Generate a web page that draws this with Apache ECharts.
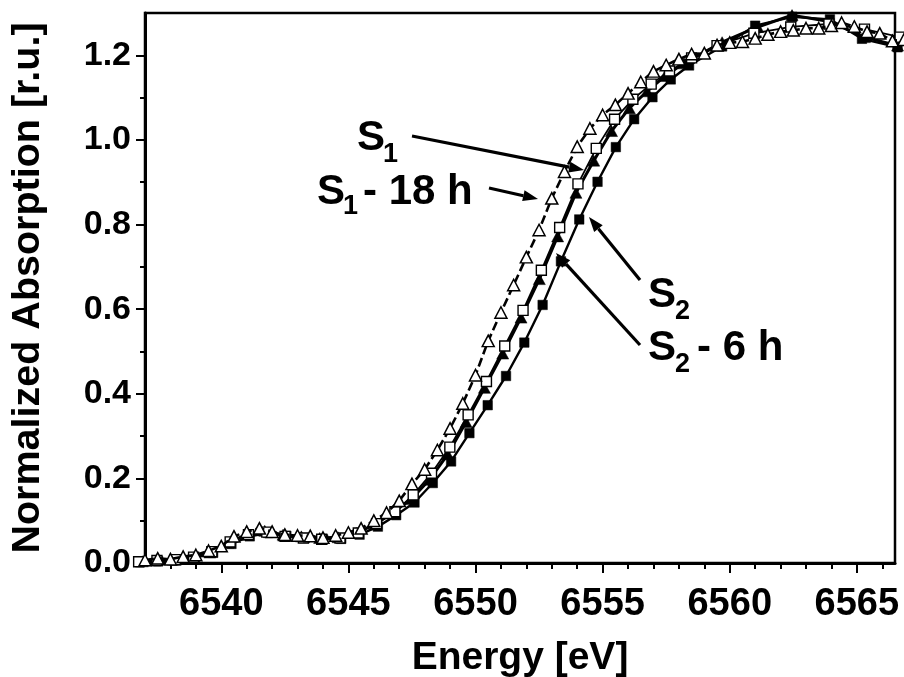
<!DOCTYPE html>
<html><head><meta charset="utf-8">
<script src="https://cdn.jsdelivr.net/npm/echarts@6/dist/echarts.min.js"></script>
<style>html,body{margin:0;padding:0;background:#fff}#c{width:904px;height:677px}</style>
</head><body><div id="c"></div>
<script>
// ---- data ----
// S1 (filled triangles, solid line)
const s1Energy = [6536.9,6537.39,6538.11,6538.83,6539.55,6540.27,6540.99,6541.71,6542.43,6543.15,6543.87,6544.59,6545.31,6546.03,6546.75,6547.47,6548.19,6548.91,6549.63,6550.35,6551.07,6551.79,6552.51,6553.23,6553.95,6554.65,6555.35,6556.05,6556.75,6557.45,6558.2,6559.7,6561.1,6562.45,6563.9,6565.3,6566.6];
const s1Abs = [0.004,0.006,0.008,0.013,0.025,0.048,0.067,0.076,0.067,0.063,0.059,0.061,0.071,0.091,0.119,0.151,0.197,0.257,0.333,0.414,0.495,0.580,0.671,0.772,0.875,0.951,1.021,1.075,1.115,1.151,1.181,1.231,1.267,1.295,1.280,1.243,1.223];
// S1 - 18 h (open triangles, dashed line)
const s1h18Energy = [6537.0,6537.5,6538.0,6538.5,6539.0,6539.5,6540.0,6540.5,6541.0,6541.5,6542.0,6542.5,6543.0,6543.5,6544.0,6544.5,6545.0,6545.5,6546.0,6546.5,6547.0,6547.5,6548.0,6548.5,6549.0,6549.5,6550.0,6550.5,6551.0,6551.5,6552.0,6552.5,6553.0,6553.5,6554.0,6554.5,6555.0,6555.5,6556.0,6556.5,6557.0,6557.5,6558.0,6558.5,6559.0,6559.5,6560.0,6560.5,6561.0,6561.5,6562.0,6562.5,6563.0,6563.5,6564.0,6564.4,6564.9,6565.4,6565.9,6566.4,6566.85];
const s1h18Abs = [0.007,0.011,0.009,0.015,0.019,0.029,0.040,0.063,0.074,0.082,0.074,0.067,0.065,0.064,0.060,0.065,0.072,0.082,0.100,0.119,0.147,0.187,0.221,0.267,0.318,0.377,0.444,0.525,0.592,0.657,0.723,0.787,0.862,0.925,0.984,1.027,1.059,1.083,1.110,1.137,1.162,1.177,1.191,1.203,1.205,1.224,1.230,1.232,1.240,1.249,1.256,1.259,1.264,1.264,1.270,1.277,1.268,1.256,1.252,1.234,1.237];
// S2 (filled squares, solid line)
const s2Energy = [6536.80,6537.52,6538.24,6538.96,6539.68,6540.40,6541.12,6541.84,6542.56,6543.28,6544.00,6544.72,6545.44,6546.16,6546.88,6547.60,6548.32,6549.04,6549.76,6550.48,6551.20,6551.92,6552.64,6553.36,6554.08,6554.80,6555.52,6556.24,6556.96,6557.68,6558.40,6559.70,6561.00,6562.46,6563.94,6565.20,6566.60];
const s2Abs = [0.002,0.004,0.006,0.012,0.024,0.045,0.063,0.071,0.064,0.059,0.056,0.057,0.067,0.086,0.113,0.143,0.189,0.240,0.307,0.373,0.442,0.521,0.610,0.713,0.812,0.901,0.983,1.049,1.101,1.143,1.176,1.221,1.270,1.291,1.285,1.239,1.219];
// S2 - 6 h (open squares, solid line)
const s2h6Energy = [6536.75,6537.47,6538.19,6538.91,6539.63,6540.35,6541.07,6541.79,6542.51,6543.23,6543.95,6544.67,6545.39,6546.11,6546.83,6547.55,6548.27,6548.99,6549.71,6550.43,6551.15,6551.87,6552.59,6553.31,6554.03,6554.75,6555.47,6556.19,6556.91,6557.63,6558.50,6559.50,6560.95,6562.40,6563.90,6565.30,6566.70];
const s2h6Abs = [0.003,0.006,0.008,0.014,0.027,0.050,0.067,0.073,0.063,0.059,0.056,0.059,0.071,0.093,0.121,0.161,0.212,0.274,0.350,0.429,0.513,0.597,0.692,0.793,0.896,0.980,1.049,1.096,1.132,1.163,1.194,1.223,1.252,1.267,1.274,1.262,1.243];
// axis ticks
const xMajorTicks = [6540,6545,6550,6555,6560,6565];
const xMinorTicks = [6538,6539,6541,6542,6543,6544,6546,6547,6548,6549,6551,6552,6553,6554,6556,6557,6558,6559,6561,6562,6563,6564,6566];
const yMajorTicks = [0,0.2,0.4,0.6,0.8,1.0,1.2];
const yMinorTicks = [0.1,0.3,0.5,0.7,0.9,1.1];
const xRange = [6537,6566.5];
const yRange = [0,1.3];

function zip(a,b){return a.map((v,i)=>[v,b[i]]);}

const SANS = '"Liberation Sans",Arial,Helvetica,sans-serif';

const chart = echarts.init(document.getElementById('c'), null, {renderer:'canvas'});

function arrow(x1,y1,x2,y2){
  const dx=x2-x1, dy=y2-y1, L=Math.hypot(dx,dy), ux=dx/L, uy=dy/L;
  const hl=15, hw=5.5;
  const bx=x2-ux*hl, by=y2-uy*hl;
  return {type:'group', children:[
    {type:'line', shape:{x1:x1,y1:y1,x2:bx,y2:by}, style:{stroke:'#000', lineWidth:3.2}},
    {type:'polygon', shape:{points:[[x2,y2],[bx-uy*hw,by+ux*hw],[bx+uy*hw,by-ux*hw]]}, style:{fill:'#000'}}
  ]};
}
function txt(s,x,y,size){
  return {type:'text', x:x, y:y, style:{text:s, fill:'#000', fontFamily:SANS, fontWeight:'bold', fontSize:size, verticalAlign:'middle', align:'left'}};
}

const axisCommon = {
  min:xRange[0], max:xRange[1], type:'value', splitLine:{show:false}
};

chart.setOption({
  animation:false,
  backgroundColor:'#fff',
  grid:{left:145, right:9, top:13, bottom:114, containLabel:false, outerBoundsMode:'none', show:true, borderColor:'#000', borderWidth:2.5, backgroundColor:'transparent'},
  xAxis:[
    Object.assign({}, axisCommon, {
      position:'bottom',
      name:'Energy [eV]', nameLocation:'middle', nameGap:76,
      nameTextStyle:{fontFamily:SANS, fontWeight:'bold', fontSize:39, color:'#000'},
      axisLine:{show:true, lineStyle:{color:'#000', width:3}},
      axisTick:{show:true, inside:false, length:10, lineStyle:{color:'#000', width:2}, customValues:xMajorTicks},
      axisLabel:{show:true, margin:23, color:'#000', fontFamily:SANS, fontWeight:'bold', fontSize:38, customValues:xMajorTicks, formatter:v=>String(v)}
    }),
    Object.assign({}, axisCommon, {
      position:'bottom',
      axisLine:{show:false},
      axisTick:{show:true, inside:false, length:6, lineStyle:{color:'#000', width:2}, customValues:xMinorTicks},
      axisLabel:{show:false}
    })
  ],
  yAxis:[
    {type:'value', min:yRange[0], max:yRange[1], position:'left', splitLine:{show:false},
      name:'Normalized Absorption [r.u.]', nameLocation:'middle', nameGap:97,
      nameTextStyle:{fontFamily:SANS, fontWeight:'bold', fontSize:39.5, color:'#000'},
      axisLine:{show:true, lineStyle:{color:'#000', width:3}},
      axisTick:{show:true, inside:false, length:9, lineStyle:{color:'#000', width:2}, customValues:yMajorTicks},
      axisLabel:{show:true, margin:14, color:'#000', fontFamily:SANS, fontWeight:'bold', fontSize:34, customValues:yMajorTicks, formatter:v=>v.toFixed(1)}
    },
    {type:'value', min:yRange[0], max:yRange[1], position:'left', splitLine:{show:false},
      axisLine:{show:false},
      axisTick:{show:true, inside:false, length:5, lineStyle:{color:'#000', width:2}, customValues:yMinorTicks},
      axisLabel:{show:false}
    }
  ],
  series:[
    {name:'S2', type:'line', data:zip(s2Energy,s2Abs), symbol:'rect', symbolSize:9.5, showSymbol:true, showAllSymbol:true, clip:false, z:2,
      itemStyle:{color:'#000', borderColor:'#000', borderWidth:0.5}, lineStyle:{color:'#000', width:2.4}},
    {name:'S1', type:'line', data:zip(s1Energy,s1Abs), symbol:'triangle', symbolSize:[12,11], showSymbol:true, showAllSymbol:true, clip:false, z:3,
      itemStyle:{color:'#000', borderColor:'#000', borderWidth:0.5}, lineStyle:{color:'#000', width:3}},
    {name:'S2 - 6 h', type:'line', data:zip(s2h6Energy,s2h6Abs), symbol:'rect', symbolSize:10, showSymbol:true, showAllSymbol:true, clip:false, z:4,
      itemStyle:{color:'#fff', borderColor:'#000', borderWidth:1.4}, lineStyle:{color:'#000', width:1.8}},
    {name:'S1 - 18 h', type:'line', data:zip(s1h18Energy,s1h18Abs), symbol:'triangle', symbolSize:[12,11.5], showSymbol:true, showAllSymbol:true, clip:false, z:5,
      itemStyle:{color:'#fff', borderColor:'#000', borderWidth:1.5}, lineStyle:{color:'#000', width:2.6, type:[9,4]}}
  ],
  graphic:[
    arrow(412,136,584,170),
    arrow(489,188,538,199),
    arrow(640,280,589,217),
    arrow(640,345,556,253),
    txt('S',357,138,42), txt('1',383,155,27),
    txt('S',317,192,42), txt('1',343,207,27), txt('- 18 h',363,192,42),
    txt('S',648,295,42), txt('2',675,312,27),
    txt('S',648,348,42), txt('2',675,365,27), txt('- 6 h',697,348,42)
  ]
});
</script>
</body></html>
